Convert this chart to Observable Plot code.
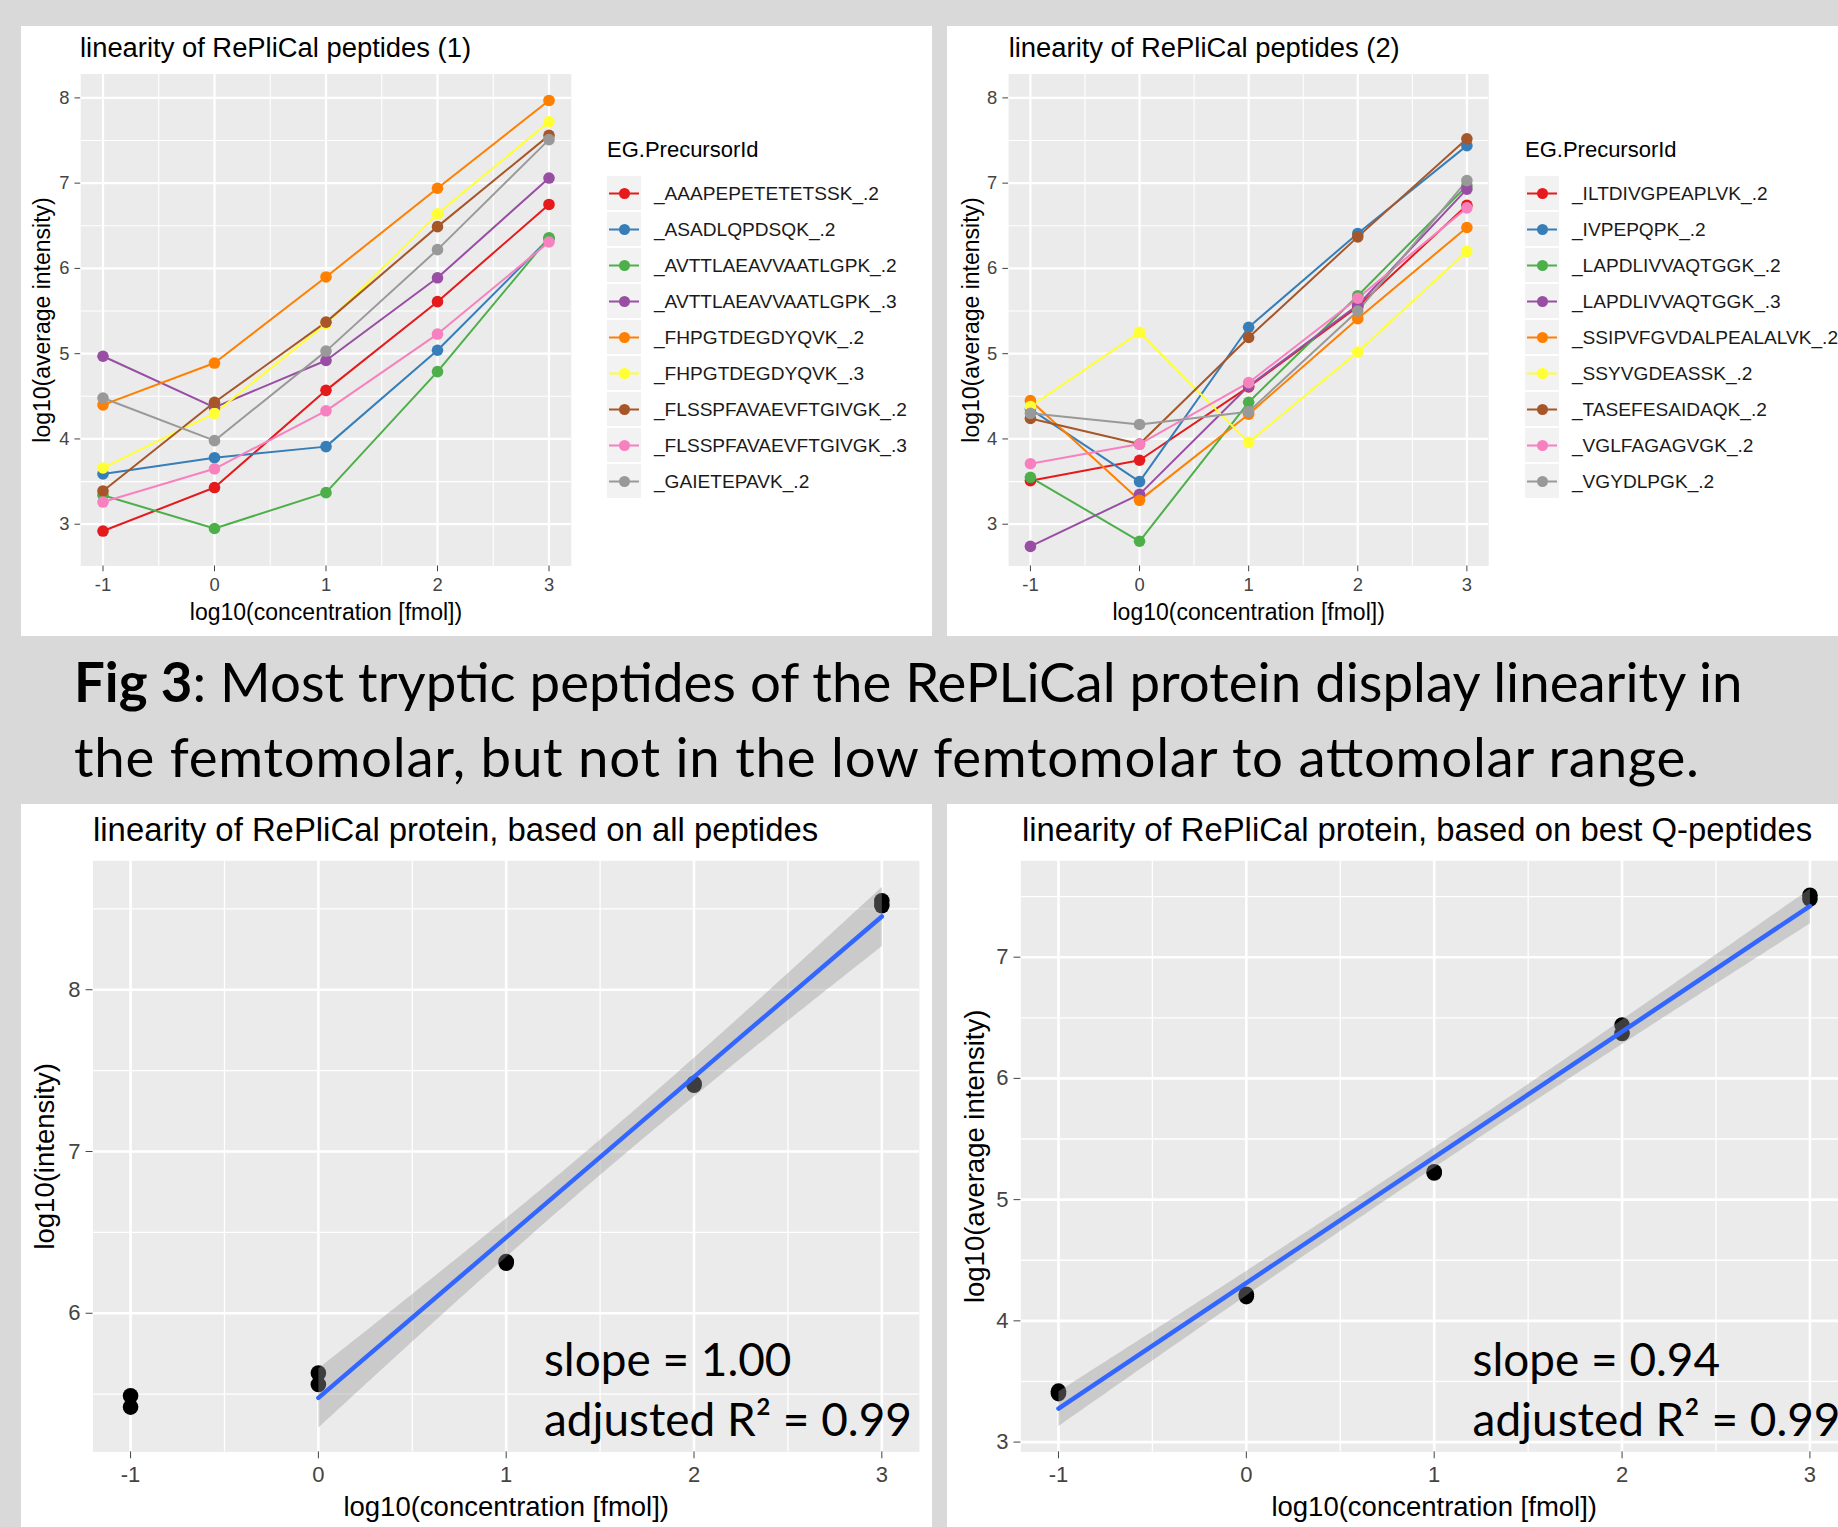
<!DOCTYPE html>
<html>
<head>
<meta charset="utf-8">
<script src="https://cdn.jsdelivr.net/npm/d3@7"></script>
<script src="https://cdn.jsdelivr.net/npm/@observablehq/plot@0.6"></script>
<style>
html, body { margin: 0; padding: 0; }
body { width: 1838px; height: 1527px; overflow: hidden; position: relative; background: #d9d9d9; }
.panel { position: absolute; background: #ffffff; }
</style>
</head>
<body>
<div class="panel" style="left:21px;top:26px;width:911px;height:610px"></div>
<div class="panel" style="left:947px;top:26px;width:891px;height:610px"></div>
<div class="panel" style="left:21px;top:804px;width:911px;height:723px"></div>
<div class="panel" style="left:947px;top:804px;width:891px;height:723px"></div>
<script>
// ---------------- DATA ----------------
const concentrations = [-1, 0, 1, 2, 3];
const set1Colors = ["#E41A1C", "#377EB8", "#4DAF4A", "#984EA3", "#FF7F00", "#FFFF33", "#A65628", "#F781BF", "#999999"];

const peptides1 = ["_AAAPEPETETETSSK_.2", "_ASADLQPDSQK_.2", "_AVTTLAEAVVAATLGPK_.2", "_AVTTLAEAVVAATLGPK_.3",
  "_FHPGTDEGDYQVK_.2", "_FHPGTDEGDYQVK_.3", "_FLSSPFAVAEVFTGIVGK_.2", "_FLSSPFAVAEVFTGIVGK_.3", "_GAIETEPAVK_.2"];
const intensities1 = [
  [2.92, 3.43, 4.57, 5.61, 6.75],
  [3.59, 3.78, 3.91, 5.04, 6.35],
  [3.34, 2.95, 3.37, 4.79, 6.36],
  [4.97, 4.37, 4.92, 5.89, 7.06],
  [4.40, 4.89, 5.90, 6.94, 7.97],
  [3.66, 4.30, 5.35, 6.64, 7.72],
  [3.39, 4.43, 5.37, 6.49, 7.56],
  [3.26, 3.65, 4.33, 5.23, 6.31],
  [4.48, 3.98, 5.03, 6.22, 7.51]
];

const peptides2 = ["_ILTDIVGPEAPLVK_.2", "_IVPEPQPK_.2", "_LAPDLIVVAQTGGK_.2", "_LAPDLIVVAQTGGK_.3",
  "_SSIPVFGVDALPEALALVK_.2", "_SSYVGDEASSK_.2", "_TASEFESAIDAQK_.2", "_VGLFAGAGVGK_.2", "_VGYDLPGK_.2"];
const intensities2 = [
  [3.51, 3.75, 4.61, 5.55, 6.74],
  [4.35, 3.50, 5.31, 6.41, 7.44],
  [3.55, 2.80, 4.43, 5.68, 6.97],
  [2.74, 3.35, 4.62, 5.57, 6.93],
  [4.45, 3.28, 4.29, 5.41, 6.48],
  [4.38, 5.25, 3.96, 5.02, 6.20],
  [4.24, 3.94, 5.19, 6.37, 7.52],
  [3.71, 3.94, 4.66, 5.65, 6.71],
  [4.30, 4.17, 4.32, 5.50, 7.03]
];

const proteinConc = [-1, -1, 0, 0, 1, 1, 2, 2, 3, 3];
const allPeptideIntensity = [5.49, 5.42, 5.63, 5.56, 6.32, 6.31, 7.42, 7.41, 8.55, 8.52];
const bestPeptideIntensity = [3.42, 3.40, 4.22, 4.20, 5.23, 5.22, 6.44, 6.37, 7.51, 7.48];

const majorX = [-1, 0, 1, 2, 3];
const minorX = [-0.5, 0.5, 1.5, 2.5];

const titles = ["linearity of RePliCal peptides (1)", "linearity of RePliCal peptides (2)",
  "linearity of RePliCal protein, based on all peptides", "linearity of RePliCal protein, based on best Q-peptides"];
const xTitle = "log10(concentration [fmol])";
const yTitles = ["log10(average intensity)", "log10(average intensity)", "log10(intensity)", "log10(average intensity)"];
const legendTitle = "EG.PrecursorId";
const captionLines = ["Most tryptic peptides of the RePLiCal protein display linearity in",
  "the femtomolar, but not in the low femtomolar to attomolar range."];
const annotations = [["slope = 1.00", "adjusted R² = 0.99"], ["slope = 0.94", "adjusted R² = 0.99"]];

// ---------------- HELPERS ----------------
const FONT = "'Liberation Sans', Arial, Helvetica, sans-serif";

function place(node, left, top) {
  node.style.position = "absolute";
  node.style.left = left + "px";
  node.style.top = top + "px";
  document.body.appendChild(node);
}

function ggFrame(cfg) {
  return [
    Plot.frame({fill: "#ebebeb", stroke: "none"}),
    Plot.gridX(minorX, {stroke: "#fff", strokeOpacity: 1, strokeWidth: cfg.minorW}),
    Plot.gridY(cfg.minorY, {stroke: "#fff", strokeOpacity: 1, strokeWidth: cfg.minorW}),
    Plot.gridX(majorX, {stroke: "#fff", strokeOpacity: 1, strokeWidth: cfg.majorW}),
    Plot.gridY(cfg.majorY, {stroke: "#fff", strokeOpacity: 1, strokeWidth: cfg.majorW}),
    Plot.axisX(majorX, {anchor: "bottom", tickSize: cfg.tickSize, tickPadding: cfg.xPad, fontSize: cfg.tickFont,
      tickFormat: d => String(d), label: null, color: "#444"}),
    Plot.axisY(cfg.majorY, {anchor: "left", tickSize: cfg.tickSize, tickPadding: cfg.yPad, fontSize: cfg.tickFont,
      tickFormat: d => String(d), label: null, color: "#444"}),
    Plot.text([xTitle], {frameAnchor: "bottom", dy: cfg.xTitleDy, text: d => d, fontSize: cfg.titleFont, fill: "#000",
      textAnchor: "middle", lineAnchor: "middle"}),
    Plot.text([cfg.yTitle], {frameAnchor: "left", rotate: -90, dx: cfg.yTitleDx, text: d => d, fontSize: cfg.titleFont,
      fill: "#000", textAnchor: "middle", lineAnchor: "middle"})
  ];
}

function peptidePlot(names, values, cfg) {
  const rows = names.flatMap((n, i) => concentrations.map((c, j) => ({peptide: n, conc: c, value: values[i][j]})));
  return Plot.plot({
    width: cfg.width, height: cfg.height,
    marginLeft: cfg.ml, marginRight: cfg.mr, marginTop: cfg.mt, marginBottom: cfg.mb,
    x: {domain: [-1.2, 3.2]},
    y: {domain: [2.51, 8.28]},
    color: {domain: names, range: set1Colors},
    style: {background: "transparent", fontFamily: FONT, overflow: "visible"},
    marks: [
      ...ggFrame(cfg),
      Plot.line(rows, {x: "conc", y: "value", z: "peptide", stroke: "peptide", strokeWidth: 2}),
      Plot.dot(rows, {x: "conc", y: "value", fill: "peptide", r: 5.8})
    ]
  });
}

function legendPlot(names) {
  return Plot.plot({
    width: 330, height: 331,
    marginLeft: 0, marginRight: 0, marginTop: 0, marginBottom: 0,
    x: {domain: [0, 330], range: [0, 330], axis: null},
    y: {type: "band", domain: names, range: [0, 330.3], padding: 0, axis: null},
    color: {domain: names, range: set1Colors},
    style: {background: "transparent", fontFamily: FONT, overflow: "visible"},
    marks: [
      Plot.barX(names, {x1: 0, x2: 34, y: d => d, fill: "#f2f2f2", insetTop: 1, insetBottom: 1}),
      Plot.ruleY(names, {y: d => d, x1: 2, x2: 32, stroke: d => d, strokeWidth: 2}),
      Plot.dot(names, {x: 17, y: d => d, fill: d => d, r: 5.5}),
      Plot.text(names, {x: 46.5, y: d => d, text: d => d, textAnchor: "start", fontSize: 19.1, fill: "#1a1a1a"})
    ]
  });
}

function proteinPlot(intensity, yDomain, majorY, minorY, fitFilter, cfg) {
  const rows = proteinConc.map((c, i) => ({conc: c, value: intensity[i]}));
  return Plot.plot({
    width: cfg.width, height: cfg.height,
    marginLeft: cfg.ml, marginRight: cfg.mr, marginTop: cfg.mt, marginBottom: cfg.mb,
    x: {domain: [-1.2, 3.2]},
    y: {domain: yDomain},
    style: {background: "transparent", fontFamily: FONT, overflow: "visible"},
    marks: [
      ...ggFrame({...cfg, majorY, minorY}),
      Plot.dot(rows, {x: "conc", y: "value", fill: "#000", r: 7.8}),
      Plot.linearRegressionY(rows.filter(fitFilter), {x: "conc", y: "value", stroke: "#3366FF", strokeWidth: 4.5,
        fill: "#999999", fillOpacity: 0.4})
    ]
  });
}

const topCfg = {height: 610, mt: 47.5, mb: 70.5, tickSize: 5.75, xPad: 6, yPad: 5.5, tickFont: 18.4, titleFont: 23,
  majorW: 2.2, minorW: 1.1, xTitleDy: 46.5, majorY: [3, 4, 5, 6, 7, 8], minorY: [3.5, 4.5, 5.5, 6.5, 7.5]};
const botCfg = {height: 723, mt: 56.3, mb: 75.6, tickSize: 6.9, xPad: 7.5, yPad: 5.5, tickFont: 22, titleFont: 27.5,
  majorW: 2.6, minorW: 1.3, xTitleDy: 55.6};

// ---------------- TOP PANELS ----------------
place(peptidePlot(peptides1, intensities1, {...topCfg, width: 911, ml: 59.2, mr: 361.2, yTitle: yTitles[0], yTitleDx: -38}), 21, 26);
place(peptidePlot(peptides2, intensities2, {...topCfg, width: 891, ml: 61.1, mr: 349.8, yTitle: yTitles[1], yTitleDx: -37.2}), 947, 26);
place(legendPlot(peptides1), 607, 171.6);
place(legendPlot(peptides2), 1525, 171.6);

// ---------------- BOTTOM PANELS ----------------
place(proteinPlot(allPeptideIntensity, [5.143, 8.797], [6, 7, 8], [5.5, 6.5, 7.5, 8.5], d => d.conc >= 0,
  {...botCfg, width: 911, ml: 71.5, mr: 13.1, yTitle: yTitles[2], yTitleDx: -47.5}), 21, 804);
place(proteinPlot(bestPeptideIntensity, [2.919, 7.795], [3, 4, 5, 6, 7], [3.5, 4.5, 5.5, 6.5, 7.5], d => true,
  {...botCfg, width: 920, ml: 73.4, mr: 20, yTitle: yTitles[3], yTitleDx: -46}), 947, 804);

// ---------------- TEXT OVERLAY ----------------
const overlay = d3.select("body").append("svg")
  .attr("width", 1838).attr("height", 1527)
  .style("position", "absolute").style("left", "0px").style("top", "0px").style("overflow", "hidden");

function addText(x, y, text, size, family, weight) {
  return overlay.append("text").attr("x", x).attr("y", y).attr("font-size", size)
    .attr("font-family", family).attr("font-weight", weight || "normal").attr("fill", "#000").text(text);
}
function fit(nodes, ref, target) {
  const base = +nodes[0].attr("font-size");
  const w = nodes[ref].node().getComputedTextLength();
  const s = base * target / w;
  nodes.forEach(n => n.attr("font-size", s));
}

// panel titles
fit([addText(80, 57, titles[0], 27.4, FONT)], 0, 391);
fit([addText(1008.7, 57, titles[1], 27.4, FONT)], 0, 391);
fit([addText(93, 841, titles[2], 32.9, FONT)], 0, 725);
fit([addText(1022, 841, titles[3], 32.9, FONT)], 0, 790);

// legend titles
addText(607, 157.3, legendTitle, 22, FONT);
addText(1525, 157.3, legendTitle, 22, FONT);

// caption
const CAP = "Lato, 'Open Sans', sans-serif";
const c1 = overlay.append("text").attr("x", 74).attr("y", 702).attr("font-size", 44).attr("font-family", CAP).attr("fill", "#000");
c1.append("tspan").attr("font-weight", "bold").text("Fig 3");
c1.append("tspan").text(": " + captionLines[0]);
const c2 = addText(74, 777, captionLines[1], 44, CAP);
fit([c1, c2], 0, 1669);
c2.attr("textLength", 1625).attr("lengthAdjust", "spacing");

// regression annotations
const a1 = [addText(544, 1376, annotations[0][0], 46, CAP), addText(544, 1436, annotations[0][1], 46, CAP)];
fit(a1, 1, 368);
const a2 = [addText(1472.6, 1376, annotations[1][0], 46, CAP), addText(1472.6, 1436, annotations[1][1], 46, CAP)];
fit(a2, 1, 368);
</script>
</body>
</html>
